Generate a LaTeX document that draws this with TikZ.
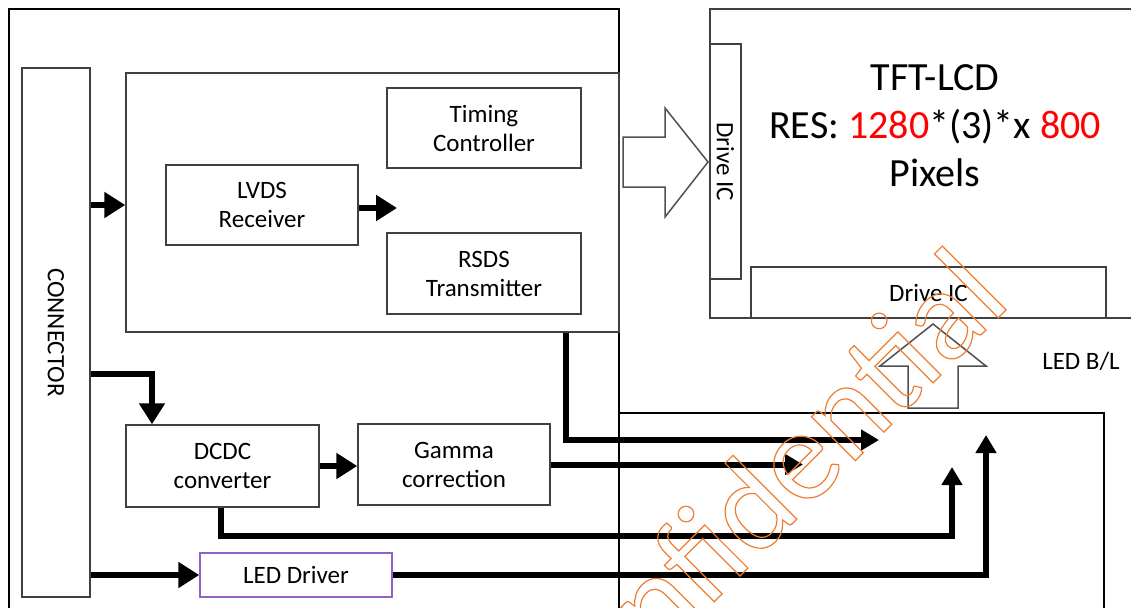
\documentclass[tikz,border=0pt]{standalone}
\usepackage{fontspec}
\setmainfont{Carlito}
\usetikzlibrary{arrows.meta}
\definecolor{xLine}{RGB}{64,64,64}
\definecolor{xPurple}{RGB}{146,95,196}
\definecolor{xRed}{RGB}{255,0,0}
\definecolor{xOrange}{RGB}{237,125,49}
\definecolor{xHollow}{RGB}{80,80,80}
\newcommand{\boxfont}{\fontsize{25}{29}\selectfont}
\newcommand{\lcdfont}{\fontsize{40}{48}\selectfont}
\newcommand{\outlined}[1]{\special{pdf:literal direct 1 Tr 1.2 w}#1\special{pdf:literal direct 0 Tr}}
\tikzset{
  blk/.style={draw=xLine, line width=1.5pt, align=center, inner sep=0pt, font=\boxfont},
  frame/.style={line width=2.6pt},
  bus/.style={line width=6pt, -{Triangle[length=21pt,width=25pt]}},
  buslong/.style={line width=6pt, -{Triangle[length=18pt,width=20pt]}},
  hollow/.style={draw=xHollow, line width=1.5pt, fill=white},
  watermark/.style={font=\fontsize{130}{130}\selectfont, text=xOrange, rotate=45, inner sep=0pt},
}
\begin{document}
\begin{tikzpicture}[x=1pt, y=-1pt]
  \useasboundingbox (0,0) rectangle (1131,607);
  % controller board
  \draw[frame] (9,610) -- (9,9) -- (619,9) -- (619,610);
  \node[blk, minimum width=68pt, minimum height=529pt] (conn) at (56,332.5) {\rotatebox{-90}{CONNECTOR}};
  \node[blk, minimum width=493pt, minimum height=259pt] (tcon) at (372.5,202.5) {};
  \node[blk, minimum width=194pt, minimum height=80pt] (timing) at (484,128) {Timing\\Controller};
  \node[blk, minimum width=192pt, minimum height=80pt] (lvds) at (262,205) {LVDS\\Receiver};
  \node[blk, minimum width=194pt, minimum height=81pt] (rsds) at (484,273.5) {RSDS\\Transmitter};
  \node[blk, minimum width=193pt, minimum height=82pt] (dcdc) at (222.5,466) {DCDC\\converter};
  \node[blk, minimum width=192pt, minimum height=81pt] (gamma) at (454,464.5) {Gamma\\correction};
  \node[blk, draw=xPurple, minimum width=192pt, minimum height=44pt] (leddrv) at (296,575) {LED Driver};
  % panel
  \node[blk, minimum width=430pt, minimum height=309pt] (lcd) at (925,163.5) {};
  \node[font=\lcdfont, align=center] (lcdtxt) at (935,126)
    {TFT-LCD\\RES: \textcolor{xRed}{1280}*(3)*x \textcolor{xRed}{800}\\Pixels};
  \node[blk, minimum width=31pt, minimum height=235pt] (driveV) at (725.5,161.5) {\rotatebox{-90}{Drive IC}};
  \node[blk, minimum width=355pt, minimum height=51pt] (driveH) at (928.5,292.5) {Drive IC};
  % backlight board
  \draw[frame] (619,413) -- (1104,413) -- (1104,610);
  \node[font=\boxfont] (bl) at (1081,361) {LED B/L};
  % hollow arrows
  \draw[hollow] (623,137) -- (665,137) -- (665,108) -- (708,162) -- (665,217) -- (665,187) -- (623,187) -- cycle;
  \draw[hollow] (908,408) -- (908,366) -- (880,366) -- (933,324) -- (986,366) -- (958,366) -- (958,408) -- cycle;
  % buses
  \coordinate (lvdsEnd) at (397,208);
  \coordinate (dcdcIn) at (152,374);
  \coordinate (tipRsds) at (879,440);
  \coordinate (tipGamma) at (803,464.5);
  \coordinate (tipDcdc) at (952,467);
  \coordinate (tipLed) at (986,435);
  \draw[bus] (conn.east |- lvds.west) -- (tcon.west |- lvds.west);
  \draw[bus] (lvds.east |- lvdsEnd) -- (lvdsEnd);
  \draw[bus] (conn.east |- dcdcIn) -| (dcdc.north -| dcdcIn);
  \draw[bus] (dcdc.east) -- (gamma.west |- dcdc.east);
  \draw[bus] (conn.east |- leddrv.west) -- (leddrv.west);
  \draw[buslong] ([xshift=193.5pt]tcon.south) |- (tipRsds);
  \draw[buslong] (gamma.east) -- (tipGamma);
  \draw[buslong] ([xshift=-2pt]dcdc.south) -- ++(0,28) -| (tipDcdc);
  \draw[buslong] (leddrv.east) -| (tipLed);
  % watermark
  \node[watermark, anchor=base east] (wm) at (1013,303) {\outlined{Confidential}};
\end{tikzpicture}
\end{document}
